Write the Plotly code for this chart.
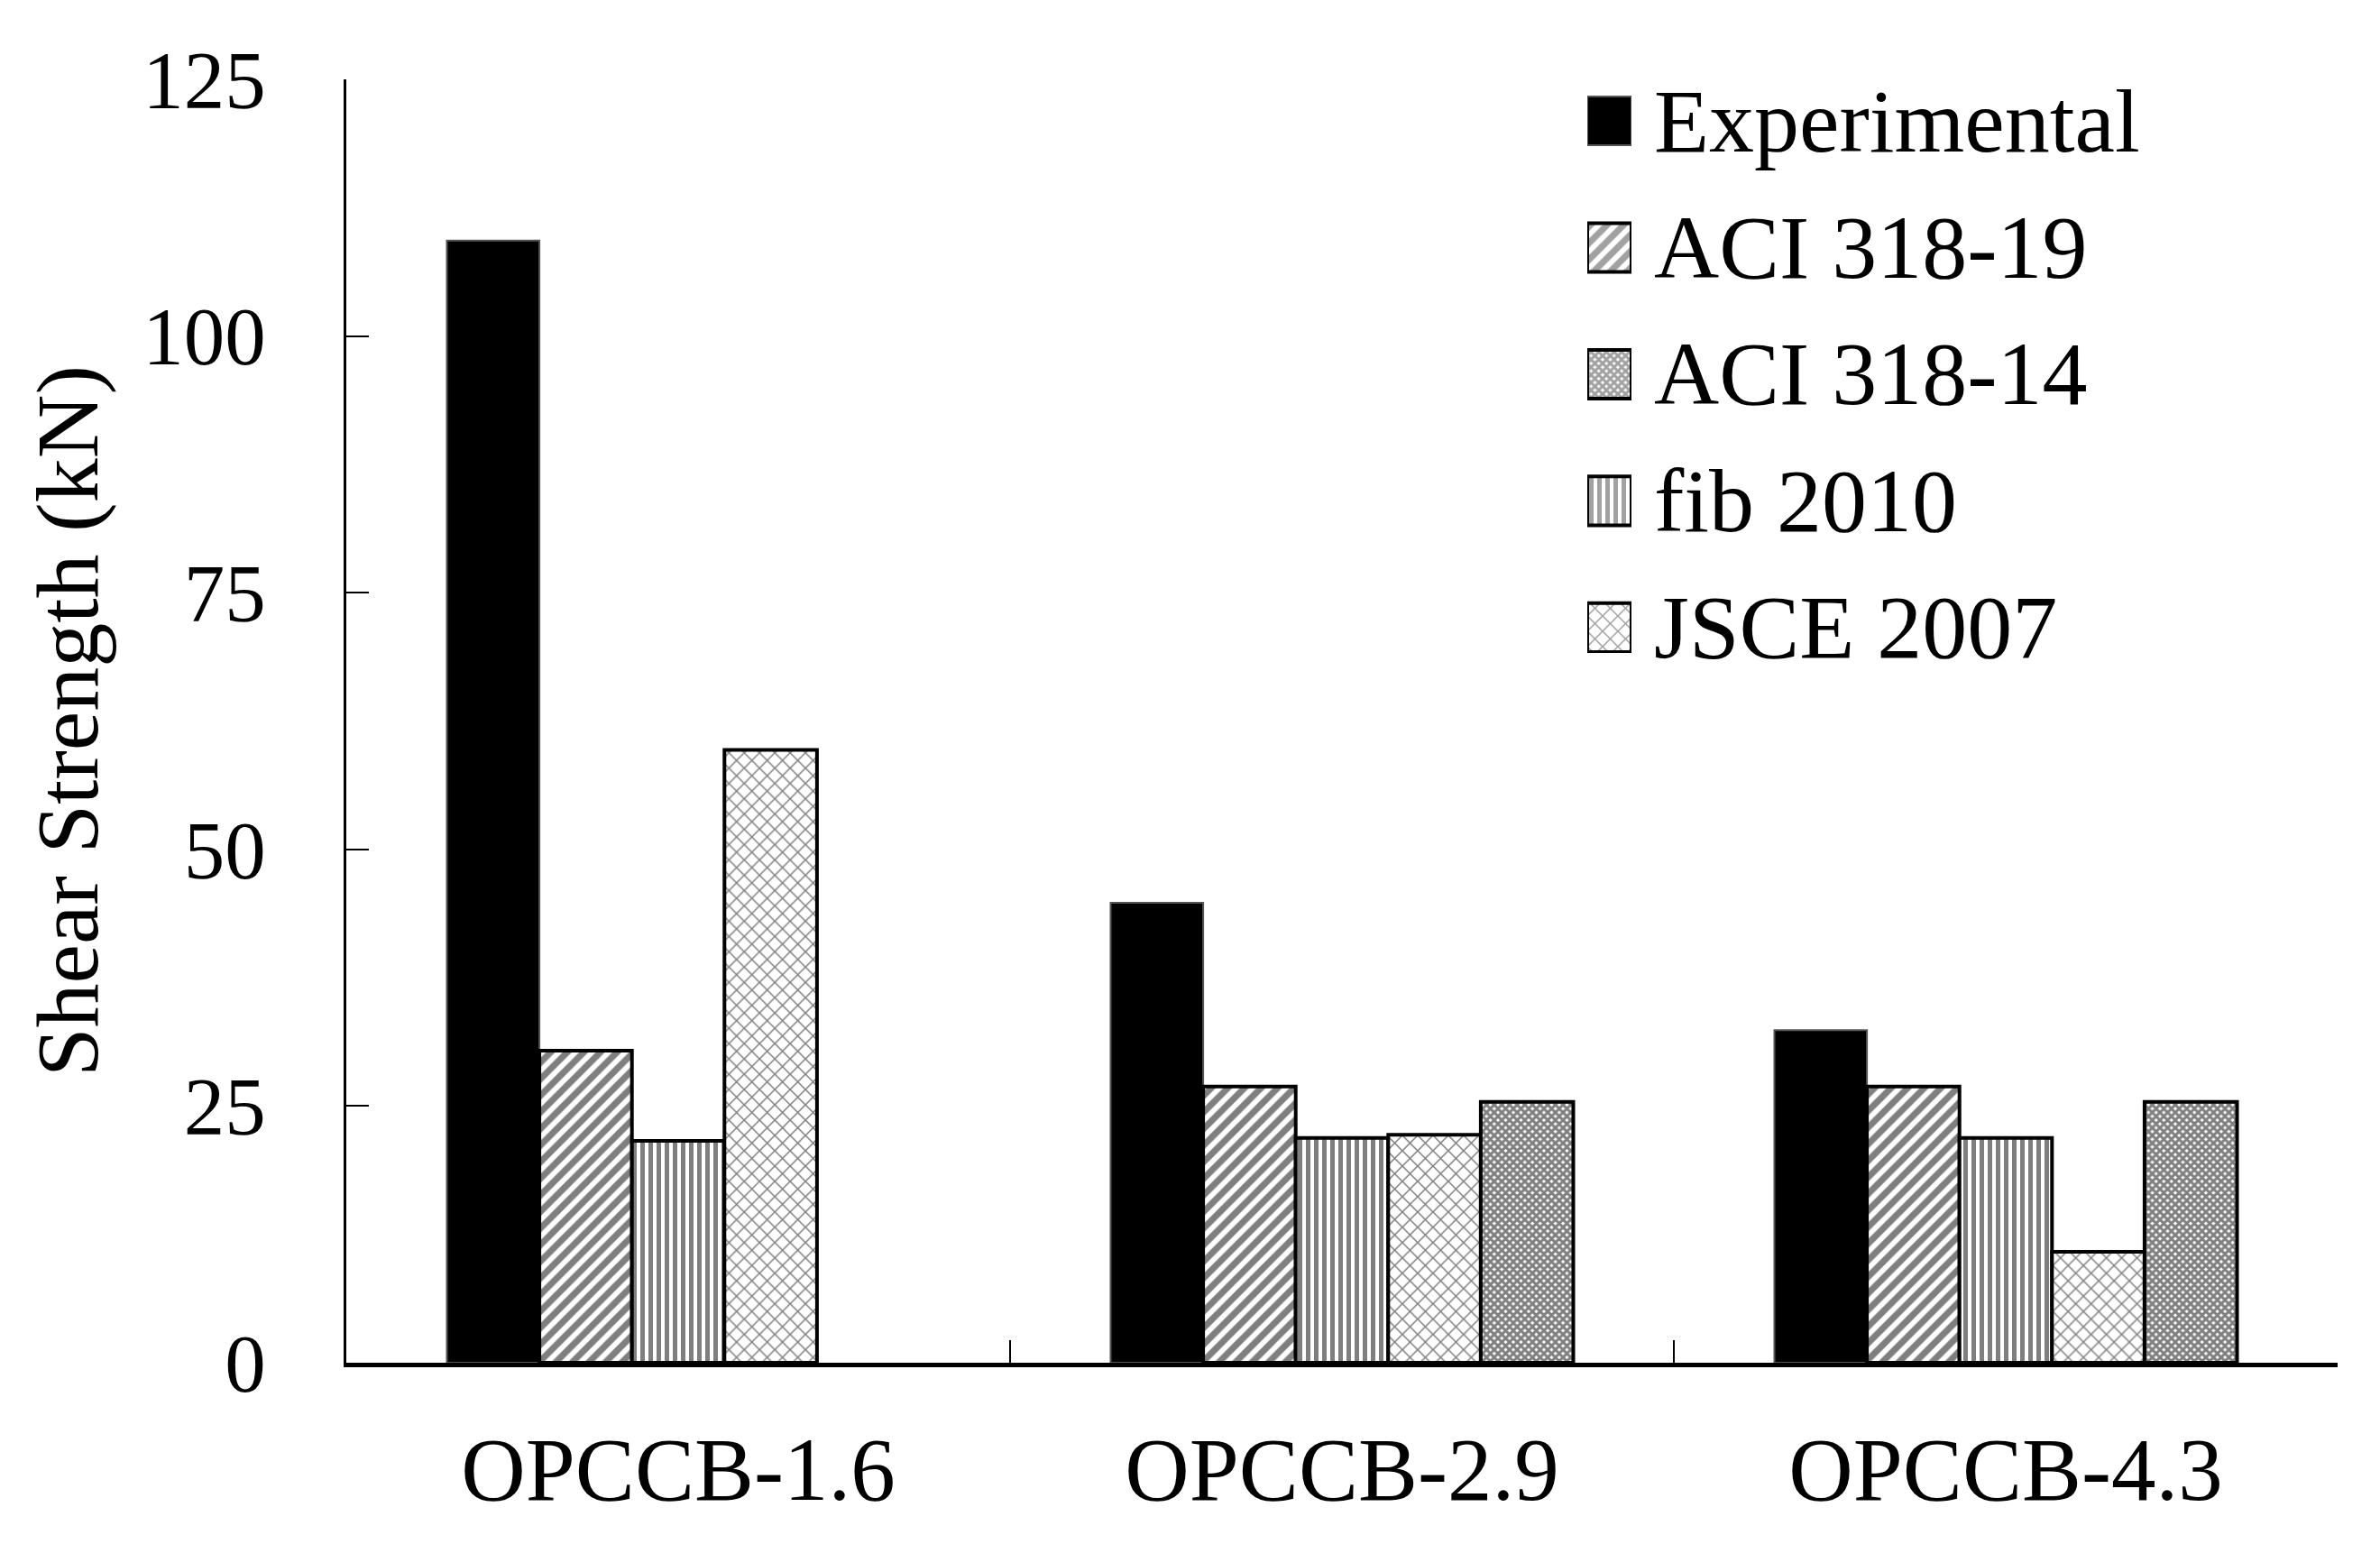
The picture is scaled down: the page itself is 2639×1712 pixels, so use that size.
import plotly.graph_objects as go

categories = ["OPCCB-1.6", "OPCCB-2.9", "OPCCB-4.3"]

experimental = [109.3, 44.8, 32.4]
aci_318_19 = [30.4, 26.9, 26.9]
fib_2010 = [21.6, 21.9, 21.9]
jsce_2007 = [59.7, 22.2, 10.8]
aci_318_14 = [None, 25.4, 25.4]

# bar order inside each group
series_names = ["Experimental", "ACI 318-19", "fib 2010", "JSCE 2007", "ACI 318-14"]
series_values = [experimental, aci_318_19, fib_2010, jsce_2007, aci_318_14]

# legend order
legend_names = ["Experimental", "ACI 318-19", "ACI 318-14", "fib 2010", "JSCE 2007"]

y_ticks = [0, 25, 50, 75, 100, 125]
y_title = "Shear Strength (kN)"

FONT = "Liberation Serif"

styles = {
    "Experimental": dict(shape="", size=8, solidity=0.3, fg="black", bg="black", line="#555555", lw=2),
    "ACI 318-19": dict(shape="/", size=13, solidity=0.55, fg="black", bg="white", line="black", lw=4),
    "fib 2010": dict(shape="|", size=9, solidity=0.55, fg="black", bg="white", line="black", lw=4),
    "JSCE 2007": dict(shape="x", size=12, solidity=0.24, fg="black", bg="white", line="black", lw=4),
    "ACI 318-14": dict(shape="x", size=6, solidity=0.75, fg="black", bg="white", line="black", lw=4),
}

fig = go.Figure()

for name, vals in zip(series_names, series_values):
    st = styles[name]
    fig.add_trace(go.Bar(
        x=categories, y=vals, name=name, showlegend=False,
        marker=dict(
            color=st["bg"],
            line=dict(color=st["line"], width=st["lw"]),
            pattern=dict(shape=st["shape"], size=st["size"], solidity=st["solidity"],
                         fgcolor=st["fg"], bgcolor=st["bg"], fillmode="overlay"),
        ),
        xaxis="x", yaxis="y",
    ))

# custom legend swatches (one bar per series, drawn on a hidden axis pair)
fig.add_trace(go.Bar(
    x=[1] * len(legend_names), y=list(range(len(legend_names))), orientation="h",
    width=[0.385] * len(legend_names), showlegend=False, hoverinfo="skip",
    marker=dict(
        color=[styles[n]["bg"] for n in legend_names],
        line=dict(color=[styles[n]["line"] for n in legend_names],
                  width=[styles[n]["lw"] for n in legend_names]),
        pattern=dict(shape=[styles[n]["shape"] for n in legend_names],
                     size=[styles[n]["size"] for n in legend_names],
                     solidity=[styles[n]["solidity"] for n in legend_names],
                     fgcolor=[styles[n]["fg"] for n in legend_names],
                     bgcolor=[styles[n]["bg"] for n in legend_names],
                     fillmode="overlay"),
    ),
    xaxis="x2", yaxis="y2",
))

annotations = []
for i, n in enumerate(legend_names):
    annotations.append(dict(
        x=0.6558, xref="paper", y=i, yref="y2", text=n, showarrow=False,
        xanchor="left", yanchor="middle",
        font=dict(family=FONT, size=100, color="black"),
    ))

fig.update_layout(
    width=2623, height=1696,
    margin=dict(l=376, r=39, t=80, b=193, autoexpand=False),
    paper_bgcolor="white", plot_bgcolor="white",
    barmode="group", bargap=0.303, bargroupgap=0,
    font=dict(family=FONT, color="black"),
    annotations=annotations,
    xaxis=dict(
        domain=[0, 1], automargin=False,
        showline=True, linecolor="black", linewidth=5,
        ticks="inside", tickson="boundaries", ticklen=25, tickwidth=2, tickcolor="black",
        tickfont=dict(family=FONT, size=99, color="black"),
        showgrid=False, zeroline=False, ticklabelstandoff=28,
    ),
    yaxis=dict(
        domain=[0, 1], automargin=False,
        range=[0, 125], tickvals=y_ticks,
        showline=True, linecolor="black", linewidth=3,
        ticks="inside", ticklen=25, tickwidth=2, tickcolor="black",
        tickfont=dict(family=FONT, size=91, color="black"),
        ticklabelstandoff=68,
        showgrid=False, zeroline=False,
        title=dict(text=y_title, font=dict(family=FONT, size=98, color="black"), standoff=17),
    ),
    xaxis2=dict(domain=[0.6232, 0.6454], range=[0, 1], anchor="y2", visible=False, fixedrange=True),
    yaxis2=dict(domain=[0.5531, 0.9874], range=[4.2, -0.2], anchor="x2", visible=False, fixedrange=True),
)

fig.write_html("out.html")
